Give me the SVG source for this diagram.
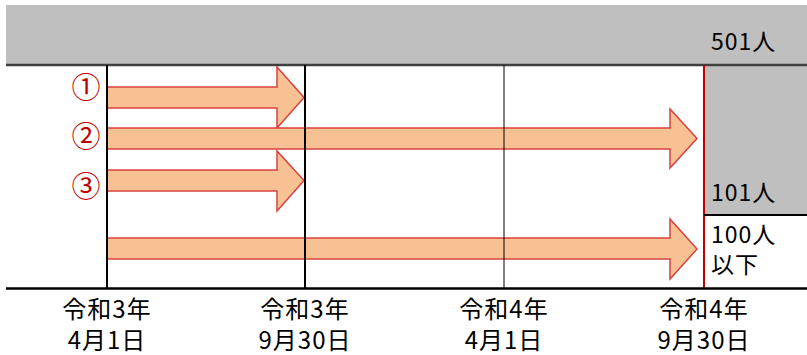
<svg xmlns="http://www.w3.org/2000/svg" width="807" height="355" viewBox="0 0 807 355">
<style>
.arrow{fill:#F8C193;stroke:#D9413E;stroke-width:1.5;stroke-linejoin:miter}
.lbl{font-family:"Noto Sans CJK JP","Noto Sans",sans-serif;font-size:24px;fill:#000;text-anchor:middle;letter-spacing:1px}
.num{font-family:"Noto Sans CJK JP","Noto Sans",sans-serif;font-size:29px;fill:#C00000;text-anchor:middle}
.cnt{font-family:"Noto Sans CJK JP","Noto Sans",sans-serif;font-size:23px;fill:#000;letter-spacing:1px}
</style>
<rect width="807" height="355" fill="#fff"/>
<g id="band">
<rect x="6" y="5" width="801" height="60" fill="#BFBFBF"/>
<rect x="704" y="65" width="103" height="150" fill="#BFBFBF"/>
<text class="cnt" x="711" y="50">501人</text>
<text class="cnt" x="711" y="201">101人</text>
<text class="cnt" x="711" y="243">100人</text>
<text class="cnt" x="711" y="273">以下</text>
</g>
<g id="arrows">
<polygon id="arrow1" class="arrow" points="107,87 277,87 277,67 304,97.5 277,128 277,108 107,108"/>
<polygon id="arrow2" class="arrow" points="107,128 670,128 670,109 697,138.5 670,168 670,149 107,149"/>
<polygon id="arrow3" class="arrow" points="107,170 277,170 277,151 304,180.5 277,211 277,191 107,191"/>
<polygon id="arrow4" class="arrow" points="107,238 670,238 670,219 697,249 670,279 670,259 107,259"/>
</g>
<g id="grid">
<line x1="6" y1="65" x2="807" y2="65" stroke="#404040" stroke-width="2.5"/>
<line x1="107" y1="65" x2="107" y2="288" stroke="#000" stroke-width="2"/>
<line x1="305" y1="65" x2="305" y2="288" stroke="#000" stroke-width="2"/>
<line x1="504" y1="65" x2="504" y2="288" stroke="#000" stroke-width="1"/>
<line x1="704" y1="65" x2="704" y2="288" stroke="#C00000" stroke-width="2"/>
<line x1="704" y1="215" x2="807" y2="215" stroke="#000" stroke-width="2"/>
<line x1="6" y1="288.5" x2="807" y2="288.5" stroke="#000" stroke-width="2.5"/>
</g>
<g id="markers">
<text class="num" x="86" y="98">①</text>
<text class="num" x="86" y="147">②</text>
<text class="num" x="86" y="197">③</text>
</g>
<g id="dates">
<text class="lbl" x="107" y="318">令和3年</text>
<text class="lbl" x="107" y="349">4月1日</text>
<text class="lbl" x="305" y="318">令和3年</text>
<text class="lbl" x="305" y="349">9月30日</text>
<text class="lbl" x="504" y="318">令和4年</text>
<text class="lbl" x="504" y="349">4月1日</text>
<text class="lbl" x="704" y="318">令和4年</text>
<text class="lbl" x="704" y="349">9月30日</text>
</g>
</svg>
